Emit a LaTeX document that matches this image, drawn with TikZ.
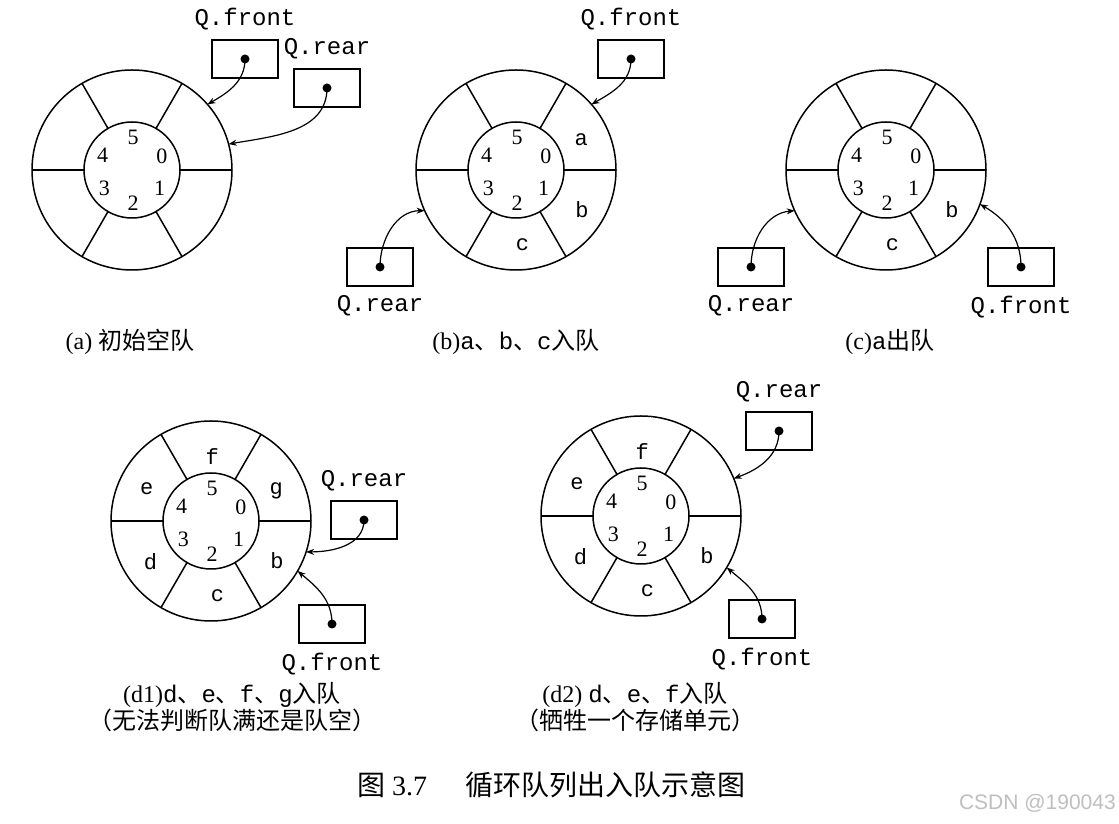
\documentclass[tikz,border=0pt]{standalone}
\usepackage{fontspec}
\setmainfont{Liberation Serif}
\setmonofont{Liberation Mono}
\newfontfamily\cjk{Noto Sans CJK SC}
\newfontfamily\wmfont{Liberation Sans}
\usetikzlibrary{arrows.meta,positioning}

\newcommand{\zh}[1]{{\cjk #1}}
\newcommand{\ttx}[1]{{\ttfamily #1}}

\begin{document}
\begin{tikzpicture}[x=1pt,y=1pt,
	ringline/.style={line width=1.5pt},
	qbox/.style={draw,line width=1.4pt,minimum width=66pt,minimum height=38pt,inner sep=0pt},
	qlab/.style={font=\fontsize{24}{24}\selectfont\ttfamily,inner sep=0pt},
	celltext/.style={font=\fontsize{22}{22}\selectfont\ttfamily,inner sep=0pt},
	idx/.style={font=\fontsize{22}{22}\selectfont,inner sep=0pt},
	ptr/.style={line width=1.2pt,-{Stealth[length=8pt,width=6pt]}},
	captext/.style={font=\fontsize{24}{25}\selectfont,align=center,inner sep=0pt}]
	\useasboundingbox (0,0) rectangle (1119,824);
	\fill[white] (0,0) rectangle (1119,824);

	% ring centres
	\coordinate (A) at (132,654);
	\coordinate (B) at (516,654);
	\coordinate (C) at (886,654);
	\coordinate (D1) at (211,303);
	\coordinate (D2) at (641,308);

	\foreach \c in {A,B,C,D1,D2}{
		\draw[ringline] (\c) circle (100);
		\draw[ringline] (\c) circle (48);
		\foreach \t in {0,60,...,300}
			\draw[ringline] ([shift={(\t:48)}]\c) -- ([shift={(\t:100)}]\c);
		\foreach \i/\t in {0/25,1/-33,2/-88,3/213,4/153,5/88}
			\node[idx] (\c-\i) at ([shift={(\t:33)}]\c) {\i};
	}

	% queue contents
	\foreach \c/\t/\r/\v in {B/25/72/a,B/-31/77/b,B/-85/75/c,
		C/-31/77/b,C/-85/75/c,
		D1/25/72/g,D1/-31/77/b,D1/-85/75/c,D1/214/73/d,D1/153/72/e,D1/89/64/f,
		D2/-31/77/b,D2/-85/75/c,D2/214/73/d,D2/153/72/e,D2/89/64/f}
		\node[celltext] (\c-cell-\v) at ([shift={(\t:\r)}]\c) {\v};

	% pointers
	\node[qbox] (Afront) at (245,765) {};
	\node[qlab,above=9pt of Afront] (Afront-l) {Q.front};
	\node[qbox] (Arear) at (327,736) {};
	\node[qlab,above=9pt of Arear] (Arear-l) {Q.rear};
	\node[qbox] (Bfront) at (631,765) {};
	\node[qlab,above=9pt of Bfront] (Bfront-l) {Q.front};
	\node[qbox] (Brear) at (380,557) {};
	\node[qlab,below=9pt of Brear] (Brear-l) {Q.rear};
	\node[qbox] (Crear) at (751,557) {};
	\node[qlab,below=9pt of Crear] (Crear-l) {Q.rear};
	\node[qbox] (Cfront) at (1021,557) {};
	\node[qlab,below=9pt of Cfront] (Cfront-l) {Q.front};
	\node[qbox] (D1rear) at (364,304) {};
	\node[qlab,above=9pt of D1rear] (D1rear-l) {Q.rear};
	\node[qbox] (D1front) at (332,200) {};
	\node[qlab,below=9pt of D1front] (D1front-l) {Q.front};
	\node[qbox] (D2rear) at (779,393) {};
	\node[qlab,above=9pt of D2rear] (D2rear-l) {Q.rear};
	\node[qbox] (D2front) at (762,205) {};
	\node[qlab,below=9pt of D2front] (D2front-l) {Q.front};

	\foreach \b in {Afront,Arear,Bfront,Brear,Crear,Cfront,D1rear,D1front,D2rear,D2front}
		\fill (\b) circle (4.5);

	\coordinate (Afront-end) at ([shift={(41:100)}]A);
	\coordinate (Arear-end) at ([shift={(15:100)}]A);
	\coordinate (Bfront-end) at ([shift={(41:100)}]B);
	\coordinate (Brear-end) at ([shift={(204:100)}]B);
	\coordinate (Crear-end) at ([shift={(204:100)}]C);
	\coordinate (Cfront-end) at ([shift={(-20:100)}]C);
	\coordinate (D1rear-end) at ([shift={(-18:100)}]D1);
	\coordinate (D1front-end) at ([shift={(-30:100)}]D1);
	\coordinate (D2rear-end) at ([shift={(22:100)}]D2);
	\coordinate (D2front-end) at ([shift={(-31:100)}]D2);

	\draw[ptr] (Afront.center) to[out=-90,in=30] (Afront-end);
	\draw[ptr] (Arear.center) to[out=-90,in=10] (Arear-end);
	\draw[ptr] (Bfront.center) to[out=-90,in=30] (Bfront-end);
	\draw[ptr] (Brear.center) to[out=90,in=180] (Brear-end);
	\draw[ptr] (Crear.center) to[out=90,in=185] (Crear-end);
	\draw[ptr] (Cfront.center) to[out=90,in=-30] (Cfront-end);
	\draw[ptr] (D1rear.center) to[out=-90,in=0] (D1rear-end);
	\draw[ptr] (D1front.center) to[out=90,in=-40] (D1front-end);
	\draw[ptr] (D2rear.center) to[out=-90,in=20] (D2rear-end);
	\draw[ptr] (D2front.center) to[out=90,in=-40] (D2front-end);

	% captions
	\node[captext] (capA) at (130,482) {(a) \zh{初始空队}};
	\node[captext] (capB) at (516,482) {(b)\ttx{a}\zh{、}\ttx{b}\zh{、}\ttx{c}\zh{入队}};
	\node[captext] (capC) at (890,482) {(c)\ttx{a}\zh{出队}};
	\node[captext] (capD1) at (232,117) {(d1)\ttx{d}\zh{、}\ttx{e}\zh{、}\ttx{f}\zh{、}\ttx{g}\zh{入队}\\\zh{（无法判断队满还是队空）}};
	\node[captext] (capD2) at (635,117) {(d2) \ttx{d}\zh{、}\ttx{e}\zh{、}\ttx{f}\zh{入队}\\\zh{（牺牲一个存储单元）}};
	\node[font=\fontsize{28}{28}\selectfont,inner sep=0pt] (fig) at (551,39) {\zh{图} 3.7\hspace{38pt}\zh{循环队列出入队示意图}};
	\node[font=\wmfont\fontsize{21}{21}\selectfont,text=black!25,inner sep=0pt,anchor=east] (mark) at (1116,21) {CSDN @190043};
\end{tikzpicture}
\end{document}
